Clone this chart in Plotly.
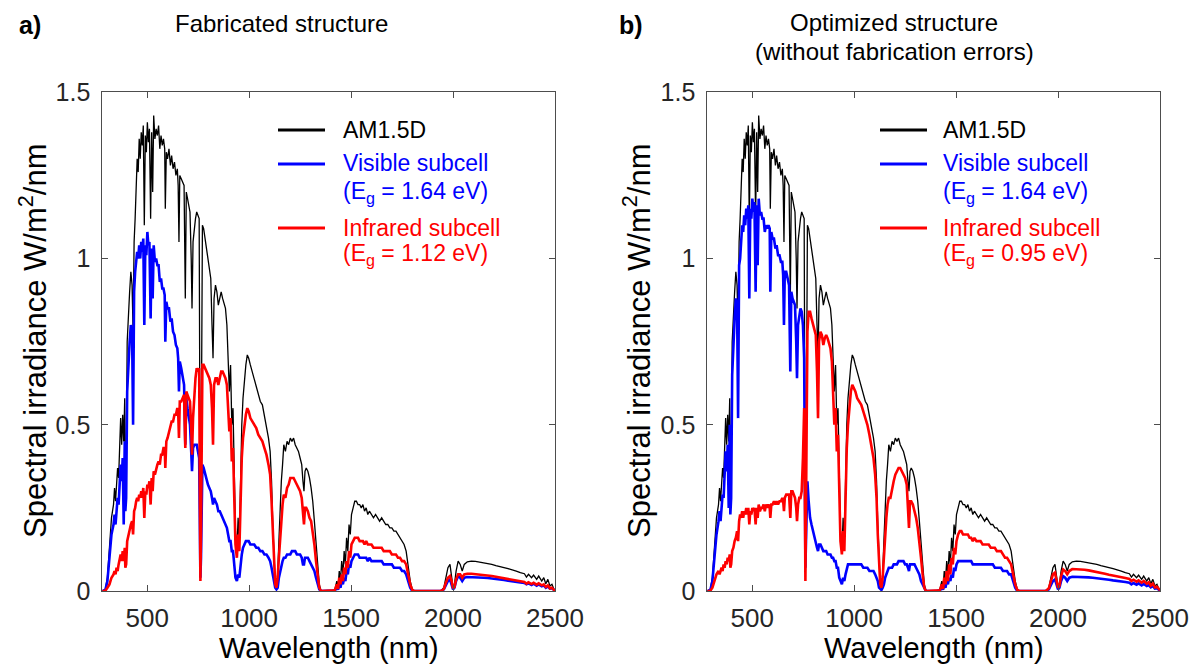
import plotly.graph_objects as go

# ---------------------------------------------------------------------------
# Spectral data (W/m^2/nm) on a shared wavelength grid (nm)
# ---------------------------------------------------------------------------
wavelength_nm = [
    280, 295, 305, 315, 325, 335, 340, 345, 350, 355, 360, 365, 370, 375, 380, 385, 390, 393, 397,
    402, 408, 414, 420, 426, 431, 436, 441, 446, 451, 456, 461, 466, 471, 476, 481, 486, 491, 496, 501, 506, 511, 517, 522, 527, 532,
    538, 544, 550, 556, 562, 568, 574, 580, 586, 589, 594, 600, 607, 614, 620, 627, 634, 641, 648, 652, 656, 660, 667, 674, 681,
    687, 692, 698, 704, 710, 716, 720, 725, 731, 737, 743, 749, 755, 758, 761, 764, 767, 771, 777, 784, 791, 798, 805, 812, 818, 823,
    828, 835, 842, 849, 856, 863, 870, 877, 884, 891, 897, 903, 909, 915, 921, 927, 933, 940, 946, 952, 958, 964, 970, 977, 984, 991, 998,
    1006, 1015, 1025, 1035, 1045, 1055, 1065, 1075, 1085, 1095, 1103, 1110, 1116, 1122, 1128, 1134, 1140, 1146, 1152, 1158, 1164, 1170,
    1178, 1186, 1194, 1202, 1210, 1218, 1226, 1234, 1242, 1250, 1258, 1264, 1269, 1274, 1280, 1288, 1296, 1304, 1312, 1320, 1328, 1336, 1344, 1352,
    1400, 1420, 1430, 1436, 1442, 1448, 1454, 1460, 1466, 1472, 1478, 1484, 1490, 1496, 1502, 1510, 1518, 1526, 1534, 1542,
    1550, 1558, 1566, 1574, 1582, 1590, 1600, 1610, 1620, 1630, 1640, 1650, 1660, 1670, 1680, 1690, 1700, 1710, 1720, 1730,
    1740, 1750, 1760, 1770, 1780, 1790, 1800,
    1810, 1940, 1955, 1965, 1975, 1985, 1993, 2000, 2007, 2015, 2025, 2035, 2045, 2055, 2070, 2090, 2110, 2130, 2150, 2170,
    2190, 2210, 2230, 2250, 2270, 2290, 2310, 2330, 2350, 2360, 2370, 2385, 2395, 2410, 2420, 2435, 2445, 2455, 2465, 2475,
    2485, 2495, 2500,
]

# Reference solar spectrum
am15d = [
    0, .005, .04, .13, .22, .26, .31, .27, .33, .37, .34, .45, .52, .44, .53, .45, .58, .30, .35,
    .75, .85, .90, .96, .92, .78, 1.05, 1.12, 1.20, 1.30, 1.26, 1.36, 1.30, 1.38, 1.34, 1.40, 1.10, 1.37, 1.32, 1.41, 1.35, 1.39, 1.12, 1.38, 1.20, 1.43,
    1.36, 1.39, 1.37, 1.40, 1.33, 1.37, 1.34, 1.36, 1.33, 1.15, 1.32, 1.30, 1.33, 1.28, 1.31, 1.27, 1.29, 1.25, 1.27, 1.22, 1.05, 1.25, 1.24, 1.23, 1.22,
    .88, 1.20, 1.18, 1.16, 1.14, 1.00, .85, 1.05, 1.10, 1.12, 1.14, 1.13, 1.12, .60, .06, .30, .95, 1.10, 1.09, 1.06, 1.04, 1.01, .98, .94, .80, .70,
    .88, .92, .90, .86, .88, .90, .88, .86, .85, .80, .72, .60, .68, .50, .55, .30, .18, .12, .22, .15, .35, .50, .58, .64, .68, .71, .70,
    .68, .66, .64, .62, .60, .57, .56, .53, .50, .46, .42, .33, .20, .08, .02, .01, .05, .15, .25, .33, .38, .44,
    .42, .45, .44, .46, .45, .46, .44, .43, .42, .40, .38, .33, .30, .36, .37, .36, .34, .31, .27, .21, .14, .07, .02, .002,
    0, .003, .03, .01, .06, .03, .09, .05, .12, .08, .16, .12, .20, .17, .23, .25, .27, .27, .26, .26,
    .25, .26, .24, .25, .23, .24, .23, .22, .23, .22, .21, .22, .21, .20, .20, .19, .19, .18, .18, .17,
    .16, .15, .14, .12, .08, .03, .005,
    0, 0, .01, .04, .07, .08, .05, .01, .02, .06, .09, .08, .06, .08, .088, .090, .089, .087, .085, .082,
    .080, .076, .074, .070, .067, .064, .060, .055, .052, .042, .050, .040, .048, .035, .045, .030, .040, .022, .035, .015,
    .020, .005, .002,
]

# a) Fabricated structure
visible_a = [
    0, .003, .03, .10, .17, .20, .23, .20, .25, .28, .26, .33, .38, .33, .40, .20, .45, .24, .28,
    .60, .70, .75, .80, .78, .50, .90, .96, 1.00, 1.02, 1.00, 1.04, 1.00, 1.05, 1.02, 1.06, .80, 1.04, 1.01, 1.08, 1.04, 1.05, .82, 1.03, .88, 1.04,
    .99, 1.00, .98, .98, .93, .94, .91, .91, .89, .75, .87, .85, .85, .81, .82, .78, .77, .74, .73, .70, .60, .69, .67, .64, .62,
    .44, .58, .55, .52, .50, .42, .36, .43, .44, .44, .44, .42, .40, .22, .04, .10, .33, .38, .37, .35, .34, .32, .31, .30, .28, .26,
    .28, .27, .26, .24, .24, .23, .22, .21, .20, .19, .17, .15, .15, .12, .12, .07, .04, .03, .05, .04, .08, .11, .13, .14, .15, .15, .15,
    .14, .14, .14, .13, .13, .12, .12, .11, .11, .10, .09, .07, .05, .02, .01, .005, .01, .04, .06, .08, .09, .10,
    .10, .11, .11, .11, .12, .12, .12, .11, .11, .11, .10, .08, .08, .10, .10, .10, .09, .08, .07, .06, .04, .02, .005, 0,
    0, .001, .01, .004, .02, .01, .03, .02, .04, .03, .06, .05, .08, .07, .09, .10, .11, .11, .11, .10,
    .10, .10, .10, .10, .09, .10, .09, .09, .09, .09, .09, .09, .08, .08, .08, .08, .08, .07, .07, .07,
    .07, .06, .06, .05, .03, .01, 0,
    0, 0, .005, .02, .03, .035, .02, .005, .01, .03, .045, .04, .03, .04, .042, .042, .042, .041, .040, .039,
    .038, .036, .035, .033, .031, .030, .028, .026, .024, .020, .023, .018, .022, .016, .020, .014, .017, .010, .014, .007,
    .008, .002, .001,
]
infrared_a = [
    0, .001, .01, .02, .04, .05, .06, .05, .07, .06, .08, .10, .11, .09, .12, .09, .13, .07, .08,
    .15, .17, .19, .20, .21, .17, .24, .25, .27, .28, .27, .29, .28, .30, .28, .31, .22, .30, .29, .32, .31, .33, .26, .34, .30, .36,
    .35, .37, .38, .39, .38, .41, .41, .43, .43, .37, .45, .46, .48, .49, .51, .51, .53, .53, .55, .54, .46, .57, .57, .58, .59,
    .43, .60, .59, .58, .57, .49, .41, .52, .60, .64, .67, .66, .67, .35, .03, .18, .60, .68, .68, .67, .66, .65, .64, .62, .55, .44,
    .62, .64, .64, .62, .64, .66, .66, .65, .64, .62, .55, .48, .52, .39, .43, .23, .14, .10, .17, .12, .28, .40, .46, .50, .53, .55, .54,
    .52, .51, .50, .49, .47, .46, .45, .43, .41, .38, .35, .27, .17, .06, .02, .01, .04, .10, .16, .22, .26, .29,
    .28, .31, .32, .34, .34, .34, .33, .32, .31, .30, .28, .22, .20, .25, .25, .24, .22, .21, .18, .14, .09, .05, .01, 0,
    0, .002, .02, .006, .04, .02, .05, .03, .07, .05, .09, .07, .12, .10, .14, .15, .16, .16, .16, .15,
    .15, .15, .14, .15, .14, .14, .14, .13, .13, .13, .13, .13, .12, .12, .12, .12, .11, .11, .11, .10,
    .10, .09, .09, .08, .05, .02, .003,
    0, 0, .006, .025, .04, .045, .03, .008, .012, .035, .05, .05, .04, .05, .052, .052, .051, .050, .049, .047,
    .045, .043, .041, .038, .036, .034, .032, .030, .027, .022, .026, .021, .025, .019, .023, .017, .020, .012, .017, .008,
    .010, .003, .001,
]

# b) Optimized structure
visible_b = [
    0, .003, .03, .10, .17, .21, .24, .21, .26, .29, .28, .36, .42, .36, .44, .25, .50, .23, .28,
    .65, .76, .82, .88, .86, .52, .98, 1.00, 1.06, 1.10, 1.08, 1.13, 1.10, 1.15, 1.12, 1.16, .88, 1.15, 1.12, 1.18, 1.14, 1.17, .90, 1.16, .98, 1.18,
    1.13, 1.14, 1.12, 1.12, 1.08, 1.10, 1.09, 1.10, 1.09, .90, 1.08, 1.06, 1.06, 1.03, 1.04, 1.01, 1.01, .99, .99, .95, .80, .96, .96, .94, .92,
    .66, .90, .88, .87, .86, .75, .64, .80, .83, .85, .84, .80, .70, .40, .07, .15, .30, .33, .27, .22, .20, .18, .16, .15, .13, .12,
    .14, .14, .13, .12, .12, .12, .11, .11, .11, .10, .10, .09, .09, .07, .07, .04, .03, .02, .04, .03, .05, .07, .08, .08, .08, .08, .08,
    .08, .08, .08, .08, .07, .07, .07, .06, .06, .06, .05, .04, .03, .01, .005, .003, .01, .02, .04, .05, .06, .07,
    .07, .07, .08, .08, .08, .09, .09, .09, .09, .08, .08, .07, .06, .08, .08, .08, .08, .07, .06, .05, .03, .02, .005, 0,
    0, .001, .01, .004, .02, .01, .03, .02, .04, .03, .05, .04, .07, .06, .08, .09, .09, .09, .09, .09,
    .09, .09, .09, .09, .08, .08, .08, .08, .08, .08, .08, .08, .08, .08, .08, .07, .07, .07, .07, .06,
    .06, .06, .05, .05, .03, .01, 0,
    0, 0, .005, .02, .03, .035, .02, .005, .01, .03, .045, .04, .03, .04, .043, .043, .043, .042, .041, .040,
    .039, .037, .036, .034, .032, .031, .029, .027, .025, .020, .024, .019, .023, .017, .021, .015, .018, .011, .015, .007,
    .008, .002, .001,
]
infrared_b = [
    0, .001, .01, .03, .05, .06, .05, .06, .07, .06, .08, .07, .09, .08, .10, .09, .11, .07, .08,
    .12, .13, .15, .16, .18, .15, .21, .23, .22, .24, .22, .24, .23, .25, .23, .25, .20, .24, .23, .25, .24, .25, .20, .25, .22, .26,
    .24, .25, .25, .26, .24, .26, .25, .26, .25, .22, .26, .26, .27, .26, .27, .26, .27, .27, .28, .27, .24, .28, .29, .29, .29,
    .22, .30, .30, .29, .28, .25, .21, .26, .28, .28, .30, .40, .55, .35, .03, .25, .60, .78, .84, .84, .82, .80, .79, .77, .66, .52,
    .75, .78, .77, .74, .76, .77, .76, .74, .73, .69, .60, .50, .55, .42, .47, .25, .15, .11, .18, .12, .30, .43, .50, .56, .60, .62, .61,
    .60, .58, .57, .56, .54, .52, .50, .47, .44, .40, .35, .28, .17, .07, .02, .01, .04, .10, .17, .22, .26, .28,
    .28, .31, .33, .35, .36, .37, .37, .36, .35, .34, .32, .25, .19, .27, .27, .26, .24, .22, .19, .15, .10, .05, .01, 0,
    0, .002, .02, .006, .04, .02, .06, .03, .08, .05, .10, .08, .13, .11, .15, .17, .18, .18, .17, .17,
    .17, .17, .16, .16, .15, .16, .15, .15, .15, .14, .14, .14, .14, .13, .13, .13, .12, .12, .12, .11,
    .10, .10, .09, .08, .05, .02, .003,
    0, 0, .008, .03, .05, .055, .035, .01, .015, .045, .065, .06, .05, .06, .066, .066, .065, .064, .062, .060,
    .058, .055, .052, .049, .047, .045, .042, .039, .036, .030, .034, .028, .032, .025, .030, .022, .026, .016, .022, .011,
    .013, .004, .002,
]

x_ticks = [500, 1000, 1500, 2000, 2500]
y_ticks = [0, 0.5, 1, 1.5]
y_tick_text = ["0", "0.5", "1", "1.5"]

panel_labels = ["a)", "b)"]
panel_titles = [["Fabricated structure"], ["Optimized structure", "(without fabrication errors)"]]
legend_labels = {
    "a": ["AM1.5D", "Visible subcell", "(E<sub>g</sub> = 1.64 eV)", "Infrared subcell", "(E<sub>g</sub> = 1.12 eV)"],
    "b": ["AM1.5D", "Visible subcell", "(E<sub>g</sub> = 1.64 eV)", "Infrared subcell", "(E<sub>g</sub> = 0.95 eV)"],
}

# ---------------------------------------------------------------------------
W, H = 1200, 665
FONT = "Liberation Sans, Arial, Helvetica, sans-serif"
AXIS_COLOR = "#4d4d4d"
TEXT_COLOR = "#262626"
BLUE = "#0000ff"
RED = "#ff0000"


def px(x):
    return x / W


def py(y):
    return 1 - y / H


fig = go.Figure()

panels = [
    ("x", "y", visible_a, infrared_a),
    ("x2", "y2", visible_b, infrared_b),
]
for xa, ya, vis, ir in panels:
    fig.add_trace(go.Scatter(x=wavelength_nm, y=am15d, mode="lines", xaxis=xa, yaxis=ya,
                             line=dict(color="black", width=1.3), showlegend=False, hoverinfo="skip"))
    fig.add_trace(go.Scatter(x=wavelength_nm, y=vis, mode="lines", xaxis=xa, yaxis=ya,
                             line=dict(color=BLUE, width=2.6), showlegend=False, hoverinfo="skip"))
    fig.add_trace(go.Scatter(x=wavelength_nm, y=ir, mode="lines", xaxis=xa, yaxis=ya,
                             line=dict(color=RED, width=2.6), showlegend=False, hoverinfo="skip"))

x_dom = [[102.3, 555.0], [707.3, 1160.0]]
y_dom = [py(591.0), py(92.3)]

xaxis_common = dict(range=[280, 2500], tickvals=x_ticks, ticks="inside", ticklen=6,
                    tickcolor=AXIS_COLOR, showline=True, linecolor=AXIS_COLOR, linewidth=1,
                    mirror="ticks", showgrid=False, zeroline=False, automargin=False,
                    tickfont=dict(family=FONT, size=26, color=TEXT_COLOR), ticklabelstandoff=4)
yaxis_common = dict(range=[0, 1.5], tickvals=y_ticks, ticktext=y_tick_text, ticks="inside", ticklen=6,
                    tickcolor=AXIS_COLOR, showline=True, linecolor=AXIS_COLOR, linewidth=1,
                    mirror="ticks", showgrid=False, zeroline=False, automargin=False,
                    tickfont=dict(family=FONT, size=25, color=TEXT_COLOR), ticklabelstandoff=6)

fig.update_layout(
    width=W, height=H,
    margin=dict(l=0, r=0, t=0, b=0, pad=0, autoexpand=False),
    paper_bgcolor="white", plot_bgcolor="white",
    showlegend=False,
    xaxis=dict(domain=[px(x_dom[0][0]), px(x_dom[0][1])], anchor="y", **xaxis_common),
    yaxis=dict(domain=y_dom, anchor="x", **yaxis_common),
    xaxis2=dict(domain=[px(x_dom[1][0]), px(x_dom[1][1])], anchor="y2", **xaxis_common),
    yaxis2=dict(domain=y_dom, anchor="x2", **yaxis_common),
)

annotations = []
shapes = []

panel_cfg = [
    dict(key="a", label_x=30, title_x=281, title_ys=[24], ytitle_x=33, leg_line=(278, 325), leg_text=341),
    dict(key="b", label_x=631, title_x=894, title_ys=[23, 52], ytitle_x=637, leg_line=(880, 927), leg_text=941),
]

for i, cfg in enumerate(panel_cfg):
    # panel letter
    annotations.append(dict(text=f"<b>{panel_labels[i]}</b>", x=px(cfg["label_x"]), y=py(25),
                            xref="paper", yref="paper", xanchor="center", yanchor="middle",
                            showarrow=False, font=dict(family=FONT, size=25, color="black")))
    # panel title
    for line, ty in zip(panel_titles[i], cfg["title_ys"]):
        annotations.append(dict(text=line, x=px(cfg["title_x"]), y=py(ty), xref="paper", yref="paper",
                                xanchor="center", yanchor="middle", showarrow=False,
                                font=dict(family=FONT, size=24, color="black")))
    # axis titles
    xc = (x_dom[i][0] + x_dom[i][1]) / 2
    annotations.append(dict(text="Wavelength (nm)", x=px(xc), y=py(666), xref="paper", yref="paper",
                            xanchor="center", yanchor="bottom", showarrow=False,
                            font=dict(family=FONT, size=29, color="black")))
    annotations.append(dict(text="Spectral irradiance W/m<sup>2</sup>/nm", x=px(cfg["ytitle_x"]), y=py(341),
                            xref="paper", yref="paper", xanchor="center", yanchor="middle",
                            textangle=-90, showarrow=False,
                            font=dict(family=FONT, size=31, color="black")))
    # legend
    labels = legend_labels[cfg["key"]]
    text_rows = [(labels[0], 130, "black"), (labels[1], 163, BLUE), (labels[2], 193, BLUE),
                 (labels[3], 228, RED), (labels[4], 255, RED)]
    for txt, ty, col in text_rows:
        annotations.append(dict(text=txt, x=px(cfg["leg_text"]), y=py(ty), xref="paper", yref="paper",
                                xanchor="left", yanchor="middle", showarrow=False,
                                font=dict(family=FONT, size=23, color=col)))
    for ly, col in [(130, "black"), (164, BLUE), (228, RED)]:
        shapes.append(dict(type="line", xref="paper", yref="paper",
                           x0=px(cfg["leg_line"][0]), x1=px(cfg["leg_line"][1]), y0=py(ly), y1=py(ly),
                           line=dict(color=col, width=3)))

fig.update_layout(annotations=annotations, shapes=shapes)

fig.write_html("out.html")
